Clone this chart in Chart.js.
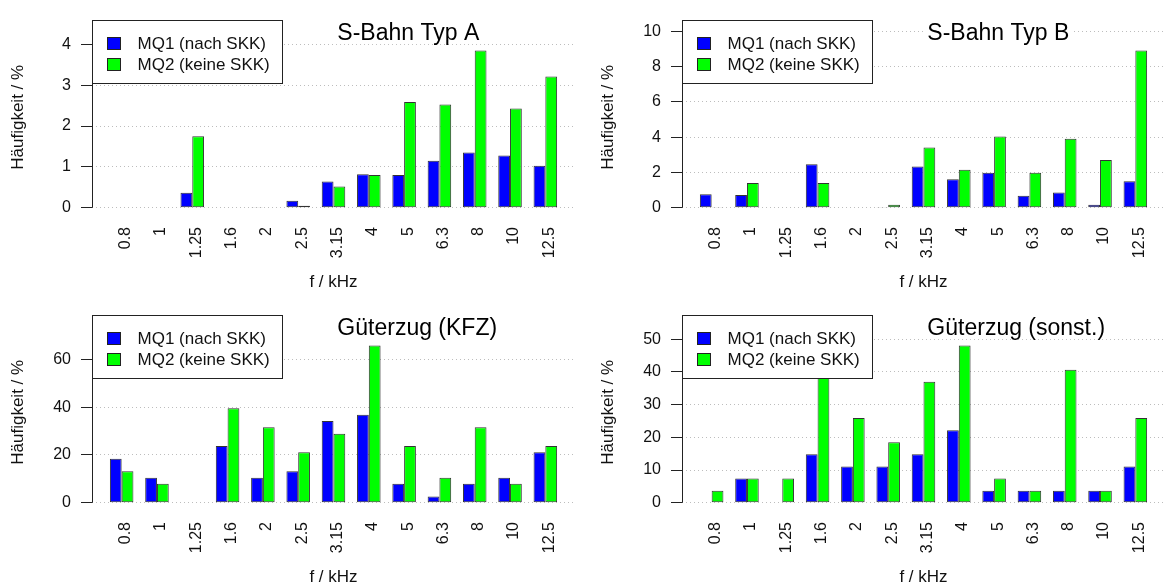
<!DOCTYPE html>
<html>
<head>
<meta charset="utf-8">
<script src="https://cdn.jsdelivr.net/npm/chart.js@4"></script>
<style>
  body { margin: 0; background: #fff; }
  #wrap { position: relative; width: 1165px; height: 583px; overflow: hidden; }
  #wrap canvas { position: absolute; }
</style>
</head>
<body>
<div id="wrap">
  <canvas id="pA" width="590" height="295" style="left:0;top:0"></canvas>
  <canvas id="pB" width="590" height="295" style="left:590px;top:0"></canvas>
  <canvas id="pC" width="590" height="295" style="left:0;top:295px"></canvas>
  <canvas id="pD" width="590" height="295" style="left:590px;top:295px"></canvas>
</div>
<script>
// terz band centre frequencies (kHz)
var freqLabels = ['0.8', '1', '1.25', '1.6', '2', '2.5', '3.15', '4', '5', '6.3', '8', '10', '12.5'];
var seriesNames = ['MQ1 (nach SKK)', 'MQ2 (keine SKK)'];

// S-Bahn Typ A
var mq1A = [0, 0, 0.37, 0, 0.02, 0.17, 0.64, 0.82, 0.80, 1.15, 1.35, 1.28, 1.03];
var mq2A = [0, 0, 1.75, 0, 0.01, 0.05, 0.52, 0.80, 2.59, 2.53, 3.85, 2.43, 3.21];
// S-Bahn Typ B
var mq1B = [0.77, 0.72, 0, 2.47, 0, 0.02, 2.34, 1.62, 1.98, 0.68, 0.86, 0.17, 1.51];
var mq2B = [0.02, 1.40, 0, 1.40, 0, 0.17, 3.41, 2.16, 4.04, 1.98, 3.91, 2.71, 8.92];
// Güterzug (KFZ)
var mq1C = [18.4, 10.5, 0, 23.7, 10.5, 13.2, 34.2, 36.8, 7.9, 2.6, 7.9, 10.5, 21.1];
var mq2C = [13.2, 7.9, 0, 39.5, 31.6, 21.1, 28.9, 65.8, 23.7, 10.5, 31.6, 7.9, 23.7];
// Güterzug (sonst.)
var mq1D = [0, 7.4, 0, 14.8, 11.1, 11.1, 14.8, 22.2, 3.7, 3.7, 3.7, 3.7, 11.1];
var mq2D = [3.7, 7.4, 7.4, 40.7, 25.9, 18.5, 37.0, 48.1, 7.4, 3.7, 40.7, 3.7, 25.9];

var titles = ['S-Bahn Typ A', 'S-Bahn Typ B', 'Güterzug (KFZ)', 'Güterzug (sonst.)'];
var yStep = [1, 2, 20, 10];

var FONT = '"Liberation Sans", Arial, sans-serif';
var INK = '#111';

// axis line (only between first and last tick, like R), title and boxed legend
var panelDeco = {
  id: 'panelDeco',
  afterDraw: function (chart, args, opts) {
    var ctx = chart.ctx, area = chart.chartArea, ys = chart.scales.y;
    ctx.save();
    var t = ys.ticks;
    var ax = Math.round(area.left) + 0.5;
    ctx.strokeStyle = '#222';
    ctx.lineWidth = 1;
    ctx.beginPath();
    ctx.moveTo(ax, ys.getPixelForValue(t[0].value));
    ctx.lineTo(ax, ys.getPixelForValue(t[t.length - 1].value));
    ctx.stroke();

    // title
    ctx.font = '23px ' + FONT;
    var tx = area.left + 0.508 * (area.right - area.left);
    var ty = area.top + 20.5;
    var m = ctx.measureText(opts.title);
    ctx.fillStyle = '#fff';
    ctx.fillRect(tx - 3, ty - m.actualBoundingBoxAscent - 2, m.width + 6,
      m.actualBoundingBoxAscent + m.actualBoundingBoxDescent + 1);
    ctx.fillStyle = '#000';
    ctx.textAlign = 'left';
    ctx.textBaseline = 'alphabetic';
    ctx.fillText(opts.title, tx, ty);

    // legend
    var lx = Math.round(area.left) + 0.5, ly = Math.round(area.top) + 0.5;
    ctx.fillStyle = '#fff';
    ctx.fillRect(lx, ly, 190, 63);
    ctx.strokeStyle = '#222';
    ctx.strokeRect(lx, ly, 190, 63);
    ctx.font = '17px ' + FONT;
    ctx.textBaseline = 'middle';
    chart.data.datasets.forEach(function (ds, i) {
      var sy = Math.round(ly + 16 + i * 21.5) + 0.5;
      ctx.fillStyle = ds.backgroundColor;
      ctx.fillRect(lx + 15, sy, 13, 12);
      ctx.strokeStyle = '#222';
      ctx.strokeRect(lx + 15, sy, 13, 12);
      ctx.fillStyle = INK;
      ctx.fillText(ds.label, lx + 45, sy + 6.5);
    });
    ctx.restore();
  }
};

function toPoints(arr) {
  return arr.map(function (v, i) { return { x: i, y: v }; });
}

function makePanel(id, title, s1, s2, step) {
  var top = 1.15 * Math.max.apply(null, s1.concat(s2));
  return new Chart(document.getElementById(id), {
    type: 'bar',
    data: {
      datasets: [
        { label: seriesNames[0], data: toPoints(s1), backgroundColor: '#0000ff' },
        { label: seriesNames[1], data: toPoints(s2), backgroundColor: '#00ff00' }
      ]
    },
    plugins: [panelDeco],
    options: {
      responsive: false,
      animation: false,
      devicePixelRatio: 1,
      layout: { padding: { left: 0, top: 14, right: 15, bottom: 0 } },
      datasets: {
        bar: {
          borderColor: '#333',
          borderWidth: 1,
          borderSkipped: false,
          categoryPercentage: 2 / 3,
          barPercentage: 1
        }
      },
      plugins: {
        legend: { display: false },
        tooltip: { enabled: false },
        panelDeco: { title: title }
      },
      scales: {
        x: {
          type: 'linear',
          min: -0.84,
          max: 12.84,
          offset: false,
          afterFit: function (s) { s.height = 80; },
          grid: { display: false, offset: false, drawTicks: false, tickLength: 0 },
          border: { display: false },
          ticks: {
            stepSize: 1,
            includeBounds: false,
            autoSkip: false,
            minRotation: 90,
            maxRotation: 90,
            padding: 12,
            labelOffset: 4,
            color: INK,
            font: { family: FONT, size: 16 },
            callback: function (v) { return freqLabels[v]; }
          },
          title: {
            display: true,
            text: 'f / kHz',
            color: INK,
            font: { family: FONT, size: 17 },
            padding: { top: 0, bottom: 2 }
          }
        },
        y: {
          min: -0.04 * top,
          max: 1.04 * top,
          afterFit: function (s) { s.width = 92; },
          grid: {
            color: '#bdbdbd',
            lineWidth: 1,
            tickLength: 11,
            tickColor: '#222',
            tickBorderDash: []
          },
          border: { display: false, dash: [1, 3] },
          ticks: {
            stepSize: step,
            includeBounds: false,
            padding: 10,
            color: INK,
            font: { family: FONT, size: 16 }
          },
          title: {
            display: true,
            text: 'Häufigkeit / %',
            color: INK,
            font: { family: FONT, size: 17 },
            padding: { top: 8, bottom: 0 }
          }
        }
      }
    }
  });
}

makePanel('pA', titles[0], mq1A, mq2A, yStep[0]);
makePanel('pB', titles[1], mq1B, mq2B, yStep[1]);
makePanel('pC', titles[2], mq1C, mq2C, yStep[2]);
makePanel('pD', titles[3], mq1D, mq2D, yStep[3]);
</script>
</body>
</html>
